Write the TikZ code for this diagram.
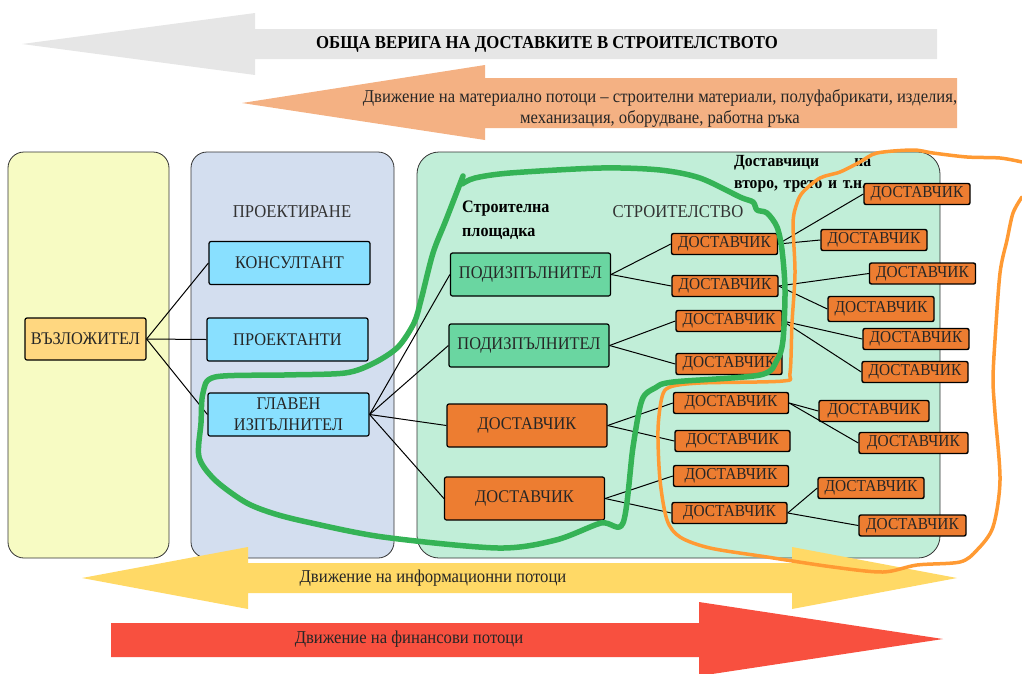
\documentclass[tikz,border=0pt]{standalone}
\usepackage{fontspec}
\setmainfont{Liberation Serif}[FakeStretch=0.92]
\usetikzlibrary{positioning}
\definecolor{grayarrow}{HTML}{E6E6E6}
\definecolor{matarrow}{HTML}{F4B183}
\definecolor{infoarrow}{HTML}{FFD966}
\definecolor{finarrow}{HTML}{F8503F}
\definecolor{zakazpanel}{HTML}{F7FBC3}
\definecolor{proektpanel}{HTML}{D3DEEF}
\definecolor{stroipanel}{HTML}{C1EED8}
\definecolor{vazlfill}{HTML}{FFD780}
\definecolor{bluefill}{HTML}{89E0FF}
\definecolor{greenfill}{HTML}{6AD6A1}
\definecolor{dostfill}{HTML}{ED7D31}
\definecolor{loopgreen}{HTML}{35B356}
\definecolor{looporange}{HTML}{FF9A33}
\begin{document}
\begin{tikzpicture}[x=1pt,y=-1pt]
	\tikzset{
		panel/.style={draw=black!80, line width=0.8pt, rounded corners=16pt},
		boxnode/.style={rectangle, rounded corners=2pt, draw=black, line width=1.2pt, inner sep=0pt, text centered, text=black!85, font=\fontsize{17.8}{21}\selectfont},
		vazlnode/.style={boxnode, fill=vazlfill, minimum width=121, minimum height=42},
		bluenode/.style={boxnode, fill=bluefill, minimum width=161, minimum height=43},
		subnode/.style={boxnode, fill=greenfill, minimum width=160, minimum height=43},
		bigdost/.style={boxnode, fill=dostfill, minimum width=160, minimum height=43},
		dostnode/.style={boxnode, fill=dostfill, minimum width=106, minimum height=21, line width=1.4pt, font=\fontsize{16.7}{17}\selectfont},
		link/.style={line width=1pt},
		flowtext/.style={text=black!85, font=\fontsize{18.1}{21}\selectfont},
	}
	\useasboundingbox (0,0) rectangle (1022,673);

	% flow arrows on top
	\fill[grayarrow] (22,44) -- (255,13) -- (255,29) -- (937,29) -- (937,59) -- (255,59) -- (255,75) -- cycle;
	\node[font=\bfseries\fontsize{18.2}{20}\selectfont] (title) at (547,44) {ОБЩА ВЕРИГА НА ДОСТАВКИТЕ В СТРОИТЕЛСТВОТО};
	\fill[matarrow] (242,103) -- (485,65) -- (485,78) -- (957,78) -- (957,128) -- (485,128) -- (485,140) -- cycle;
	\node[flowtext, align=center] (matflow) at (660,108) {Движение на материално потоци -- строителни материали, полуфабрикати, изделия,\\механизация, оборудване, работна ръка};

	% panels
	\draw[panel, fill=zakazpanel] (8,152) rectangle (169,558);
	\draw[panel, fill=proektpanel] (191,152) rectangle (394,558);
	\draw[panel, fill=stroipanel, rounded corners=22pt] (417,152) rectangle (940,558);

	\node[text=black!80, font=\fontsize{18.1}{20}\selectfont] (proektlabel) at (292,212) {ПРОЕКТИРАНЕ};
	\node[text=black!80, font=\fontsize{18.1}{20}\selectfont] (stroilabel) at (678,212) {СТРОИТЕЛСТВО};
	\node[font=\bfseries\fontsize{17.5}{24}\selectfont, align=left, anchor=west, inner sep=0pt] (ploshtadka) at (462,220) {Строителна\\площадка};
	\node[font=\bfseries\fontsize{17}{22}\selectfont, align=left, anchor=west, inner sep=0pt, text width=137] (vtoro) at (734,174) {Доставчици\hfill на\\второ, трето и т.н.};

	% main nodes
	\node[vazlnode] (vazl) at (85.5,339) {ВЪЗЛОЖИТЕЛ};
	\node[bluenode] (konsult) at (289.5,263) {КОНСУЛТАНТ};
	\node[bluenode] (proektanti) at (287.5,339.5) {ПРОЕКТАНТИ};
	\node[bluenode, align=center] (glaven) at (288.5,414.5) {ГЛАВЕН\\ИЗПЪЛНИТЕЛ};
	\node[subnode] (podiz1) at (530.5,274.5) {ПОДИЗПЪЛНИТЕЛ};
	\node[subnode] (podiz2) at (529,345.5) {ПОДИЗПЪЛНИТЕЛ};
	\node[bigdost] (dost1) at (527,425.5) {ДОСТАВЧИК};
	\node[bigdost] (dost2) at (524.5,498.5) {ДОСТАВЧИК};

	% second level suppliers
	\node[dostnode] (da) at (724.5,244) {ДОСТАВЧИК};
	\node[dostnode] (db) at (725,286) {ДОСТАВЧИК};
	\node[dostnode] (dc) at (729,321) {ДОСТАВЧИК};
	\node[dostnode] (dd) at (729,364) {ДОСТАВЧИК};
	\node[dostnode, minimum width=115] (dk) at (731,403) {ДОСТАВЧИК};
	\node[dostnode, minimum width=115] (dl) at (732.5,441) {ДОСТАВЧИК};
	\node[dostnode, minimum width=115] (dm) at (731,476) {ДОСТАВЧИК};
	\node[dostnode, minimum width=115] (dn) at (729.5,513) {ДОСТАВЧИК};

	% third level suppliers
	\node[dostnode] (de) at (917,194) {ДОСТАВЧИК};
	\node[dostnode] (df) at (874,240) {ДОСТАВЧИК};
	\node[dostnode] (dg) at (922.5,273.5) {ДОСТАВЧИК};
	\node[dostnode, minimum height=25] (dh) at (881,309) {ДОСТАВЧИК};
	\node[dostnode] (di) at (916,339) {ДОСТАВЧИК};
	\node[dostnode] (dj) at (915,372) {ДОСТАВЧИК};
	\node[dostnode, minimum width=110] (do) at (874,411) {ДОСТАВЧИК};
	\node[dostnode, minimum width=109] (dp) at (913.5,443) {ДОСТАВЧИК};
	\node[dostnode] (dq) at (871,488) {ДОСТАВЧИК};
	\node[dostnode, minimum width=107] (dr) at (912.5,525.5) {ДОСТАВЧИК};

	% links
	\foreach \to in {konsult,proektanti,glaven}
		\draw[link] (vazl.east) -- (\to.west);
	\foreach \to in {podiz1,podiz2,dost1,dost2}
		\draw[link] (glaven.east) -- (\to.west);
	\foreach \from/\to in {podiz1/da,podiz1/db,podiz2/dc,podiz2/dd,dost1/dk,dost1/dl,dost2/dm,dost2/dn,
		da/de,da/df,db/dg,db/dh,dc/di,dc/dj,dk/do,dk/dp,dn/dq,dn/dr}
		\draw[link] (\from.east) -- (\to.west);

	% info and finance arrows
	\fill[infoarrow] (82,578) -- (248,547) -- (248,563) -- (792,563) -- (792,547) -- (957,578) -- (792,609) -- (792,593) -- (248,593) -- (248,609) -- cycle;
	\node[flowtext] (infoflow) at (433,578) {Движение на информационни потоци};
	\fill[finarrow] (111,623) -- (699,623) -- (699,602) -- (943,639) -- (699,676) -- (699,657) -- (111,657) -- cycle;
	\node[flowtext] (finflow) at (409,639) {Движение на финансови потоци};

	% hand drawn loops
	\draw[looporange, line width=3.5pt, line cap=round, line join=round] plot[smooth, tension=0.5] coordinates {
		(1022,162) (1000,158) (967,157) (933,153) (913,150) (877,153) (860,162) (840,172) (820,178) (803,192) (797,203) (793,223) (795,273) (792,323) (790,373) (783,381) (700,383) (670,387) (662,397) (658,430) (660,480) (667,520) (680,537) (710,548) (767,557) (833,567) (883,572) (917,565) (960,562) (977,550) (993,527) (1000,480) (995,413) (993,380) (995,340) (1000,273) (1007,240) (1013,213) (1022,197)};
	\draw[loopgreen, line width=5.5pt, line cap=round, line join=round] plot[smooth, tension=0.5] coordinates {
		(463,176) (446,220) (433,253) (421,300) (414,323) (398,347) (374,363) (345,373) (284,375) (215,377) (203,393) (201,423) (199,457) (215,480) (245,502) (272,513) (307,522) (383,537) (498,548) (556,540) (601,523) (623,523) (633,447) (642,400) (655,388) (673,382) (760,375) (777,360) (783,340) (785,290) (782,250) (777,227) (767,213) (757,210) (753,202) (740,197) (700,178) (660,170) (601,168) (510,173) (475,178) (462,184)};
\end{tikzpicture}
\end{document}
